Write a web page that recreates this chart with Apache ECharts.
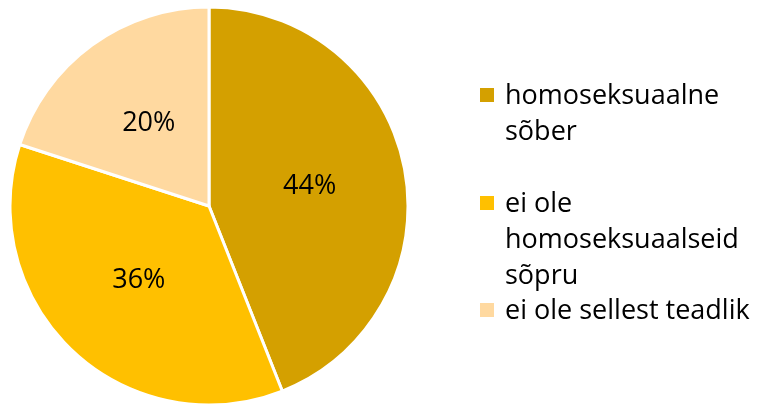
<!DOCTYPE html>
<html>
<head>
<meta charset="utf-8">
<script src="https://cdn.jsdelivr.net/npm/echarts@6/dist/echarts.min.js"></script>
<style>
    html, body { margin: 0; padding: 0; background: #fff; }
    #pie { width: 764px; height: 405px; }
</style>
</head>
<body>
<div id="pie"></div>
<script>
    const names = ['homoseksuaalne sõber', 'ei ole homoseksuaalseid sõpru', 'ei ole sellest teadlik']
    const legendText = ['homoseksuaalne\nsõber', 'ei ole\nhomoseksuaalseid\nsõpru', 'ei ole sellest teadlik']
    const values = [44, 36, 20]
    const colors = ['#D4A000', '#FFC000', '#FFD9A0']

    // legend is drawn by hand so the marker sits on the first line of wrapped text
    const legendTops = [78, 186, 293]
    const lineH = 36
    const fontFamily = '"Open Sans", "Liberation Sans", sans-serif'

    let legendItems = []
    names.forEach((n, i) => {
        legendItems.push({
            type: 'rect',
            shape: { x: 480, y: legendTops[i] + 10, width: 14, height: 14 },
            style: { fill: colors[i] }
        })
        legendItems.push({
            type: 'text',
            x: 505,
            y: legendTops[i],
            style: {
                text: legendText[i],
                fill: '#000',
                font: '27px ' + fontFamily,
                lineHeight: lineH,
                verticalAlign: 'top'
            }
        })
    })

    const option = {
        animation: false,
        color: colors,
        graphic: legendItems,
        series: [
            {
                type: 'pie',
                center: [209, 206],
                radius: 199,
                startAngle: 90,
                clockwise: true,
                itemStyle: {
                    borderColor: '#fff',
                    borderWidth: 3
                },
                label: {
                    show: true,
                    position: 'inside',
                    formatter: '{c}%',
                    fontFamily: fontFamily,
                    fontSize: 27,
                    color: '#000'
                },
                labelLine: { show: false },
                emphasis: { disabled: true },
                data: names.map((n, i) => ({ name: n, value: values[i] }))
            }
        ]
    }

    let myChart = echarts.init(document.getElementById('pie'))
    myChart.setOption(option)
</script>
</body>
</html>
